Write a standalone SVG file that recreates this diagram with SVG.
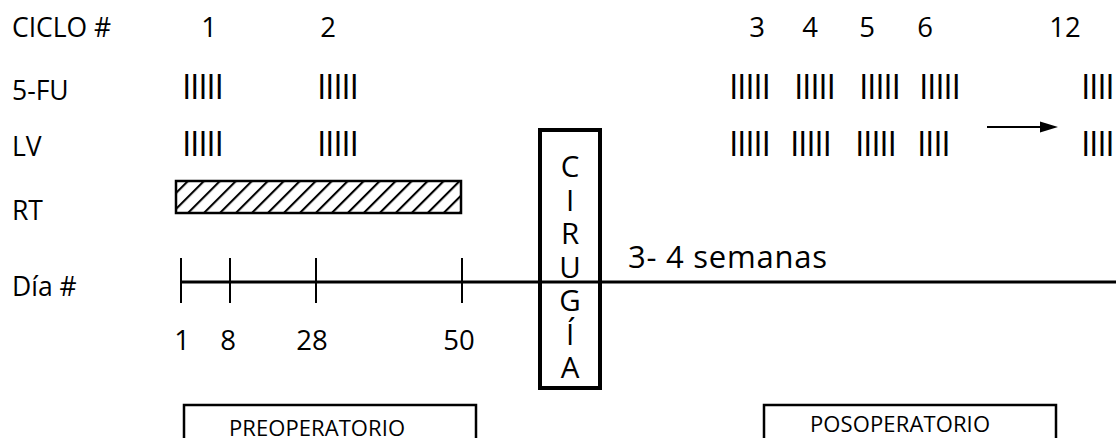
<svg xmlns="http://www.w3.org/2000/svg" width="1116" height="438" viewBox="0 0 1116 438">
<style>
text{font-family:"Open Sans","Noto Sans","Liberation Sans",sans-serif;fill:#000}
.lbl{font-size:26.5px}
.num{font-size:27.5px;text-anchor:middle}
.tal{font-size:34px;letter-spacing:-1.4px}
.sur{font-size:29.5px;text-anchor:middle}
.box{fill:none;stroke:#000;stroke-width:2.5}
.tick{stroke:#000;stroke-width:2}
</style>
<defs>
<pattern id="hatch" patternUnits="userSpaceOnUse" width="11.3" height="10" patternTransform="rotate(45)">
<line x1="1" y1="-1" x2="1" y2="11" stroke="#000" stroke-width="2.2"/>
</pattern>
</defs>
<rect width="1116" height="438" fill="#fff"/>
<g id="row-labels">
<text class="lbl" x="12" y="37">CICLO #</text>
<text class="lbl" x="12" y="100">5-FU</text>
<text class="lbl" x="12" y="156">LV</text>
<text class="lbl" x="12" y="220">RT</text>
<text class="lbl" x="12" y="296">Día #</text>
</g>
<g id="cycle-numbers">
<text class="num" x="209" y="37">1</text>
<text class="num" x="328" y="37">2</text>
<text class="num" x="757" y="37">3</text>
<text class="num" x="810" y="37">4</text>
<text class="num" x="867" y="37">5</text>
<text class="num" x="925" y="37">6</text>
<text class="num" x="1065" y="37">12</text>
</g>
<g id="fu-doses">
<text class="tal" x="182" y="99">IIIII</text>
<text class="tal" x="317" y="99">IIIII</text>
<text class="tal" x="729" y="99">IIIII</text>
<text class="tal" x="794" y="99">IIIII</text>
<text class="tal" x="859" y="99">IIIII</text>
<text class="tal" x="919" y="99">IIIII</text>
<text class="tal" x="1081" y="99">IIII</text>
</g>
<g id="lv-doses">
<text class="tal" x="182" y="156">IIIII</text>
<text class="tal" x="317" y="156">IIIII</text>
<text class="tal" x="729" y="156">IIIII</text>
<text class="tal" x="790" y="156">IIIII</text>
<text class="tal" x="855" y="156">IIIII</text>
<text class="tal" x="917" y="156">IIII</text>
<text class="tal" x="1081" y="156">IIII</text>
</g>
<g id="rt-bar">
<rect x="176" y="181" width="285" height="32" fill="url(#hatch)" stroke="#000" stroke-width="2.5"/>
</g>
<g id="connectors">
<line x1="987" y1="127" x2="1042" y2="127" stroke="#000" stroke-width="2"/>
<polygon points="1040,121.5 1058,127 1040,132.5" fill="#000"/>
<line x1="181" y1="282" x2="1116" y2="282" stroke="#000" stroke-width="3"/>
<line class="tick" x1="181" y1="258" x2="181" y2="303"/>
<line class="tick" x1="230" y1="258" x2="230" y2="303"/>
<line class="tick" x1="316" y1="258" x2="316" y2="303"/>
<line class="tick" x1="462" y1="258" x2="462" y2="303"/>
</g>
<g id="day-numbers">
<text class="num" x="182" y="350">1</text>
<text class="num" x="228" y="350">8</text>
<text class="num" x="312" y="350">28</text>
<text class="num" x="459" y="350">50</text>
</g>
<g id="interval">
<text x="628" y="268" font-size="31" textLength="199">3- 4 semanas</text>
</g>
<g id="cirugia">
<rect x="540" y="130" width="60" height="258" fill="none" stroke="#000" stroke-width="4"/>
<text class="sur" x="570" y="177">C</text>
<text class="sur" x="570" y="210.5">I</text>
<text class="sur" x="570" y="244">R</text>
<text class="sur" x="570" y="277.5">U</text>
<text class="sur" x="570" y="311">G</text>
<text class="sur" x="570" y="344.5">Í</text>
<text class="sur" x="570" y="378">A</text>
</g>
<g id="preoperatorio">
<rect class="box" x="184" y="405" width="292" height="45"/>
<text x="229" y="436" font-size="22" textLength="176">PREOPERATORIO</text>
</g>
<g id="posoperatorio">
<rect class="box" x="764" y="405" width="292" height="45"/>
<text x="810" y="432" font-size="22" textLength="180">POSOPERATORIO</text>
</g>
</svg>
